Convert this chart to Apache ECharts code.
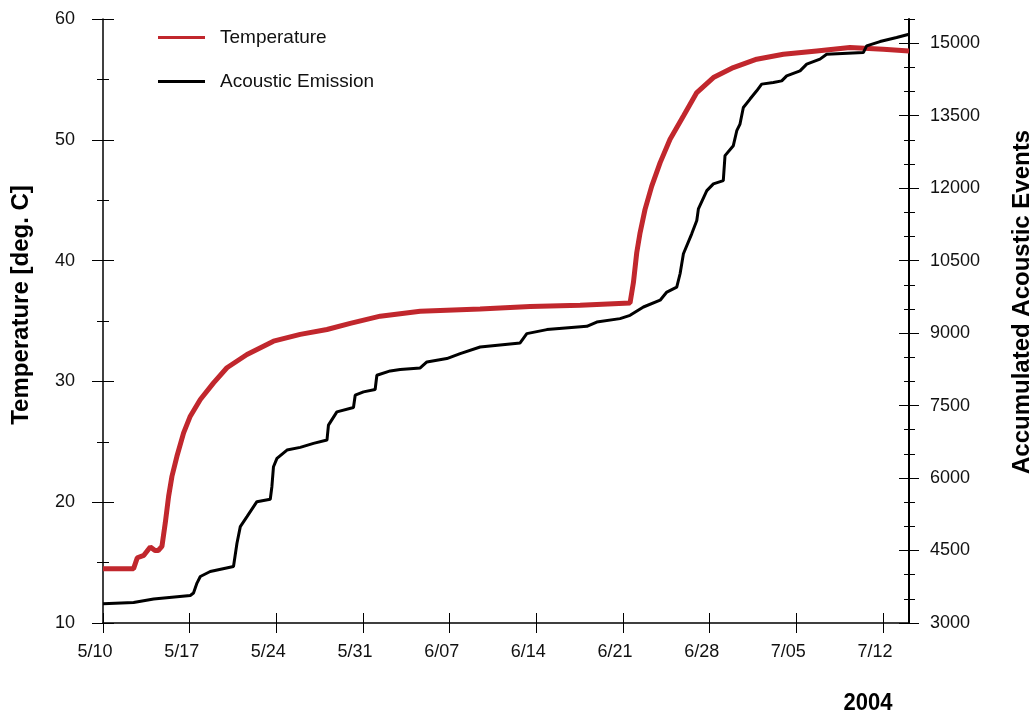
<!DOCTYPE html>
<html>
<head>
<meta charset="utf-8">
<script src="https://cdn.jsdelivr.net/npm/echarts@6/dist/echarts.min.js"></script>
<style>
html,body{margin:0;padding:0;background:#fff;}
#chart{width:1033px;height:713px;}
</style>
</head>
<body>
<div id="chart"></div>
<script>
// ---- data (x = days since 2004-05-10) ----
const dayTicks = [0, 7, 14, 21, 28, 35, 42, 49, 56, 63];
const dateLabels = ['5/10', '5/17', '5/24', '5/31', '6/07', '6/14', '6/21', '6/28', '7/05', '7/12'];
const tempTicks = [10, 20, 30, 40, 50, 60];
const aeTicks = [3000, 4500, 6000, 7500, 9000, 10500, 12000, 13500, 15000];
const aeMinorTicks = [3500, 4000, 5000, 5500, 6500, 7000, 8000, 8500, 9500, 10000, 11000, 11500, 12500, 13000, 14000, 14500, 15500];

const tempDays = [0, 2.47, 2.77, 3.3, 3.82, 4.2, 4.46, 4.76, 5.03, 5.30, 5.57, 5.97, 6.51, 7.05, 7.86, 8.93, 10.01, 11.63, 13.77, 15.93, 18.09, 19.97, 22.39, 25.62, 30.46, 34.5, 38.54, 42.57, 42.71, 42.84, 43.11, 43.38, 43.78, 44.32, 45.0, 45.8, 46.88, 47.96, 49.3, 50.91, 52.8, 54.95, 57.65, 60.33, 63.02, 65.1];
const tempValues = [14.5, 14.5, 15.4, 15.6, 16.3, 16.0, 16.0, 16.35, 18.28, 20.49, 22.15, 23.8, 25.74, 27.12, 28.5, 29.88, 31.13, 32.23, 33.33, 33.89, 34.3, 34.8, 35.4, 35.8, 36.0, 36.2, 36.3, 36.5, 36.5, 38.17, 40.66, 42.31, 44.24, 46.17, 48.11, 50.04, 51.97, 53.91, 55.15, 55.98, 56.67, 57.08, 57.36, 57.64, 57.5, 57.36];

const aeDays = [0, 2.47, 4.09, 7.05, 7.31, 7.59, 7.86, 8.66, 10.54, 10.82, 11.09, 11.63, 12.43, 13.51, 13.64, 13.77, 14.05, 14.86, 15.93, 17.0, 18.09, 18.21, 18.89, 20.23, 20.37, 21.04, 21.98, 22.12, 23.2, 24.0, 25.62, 26.16, 27.77, 28.85, 30.46, 33.69, 34.23, 35.85, 39.08, 39.88, 41.76, 42.57, 43.65, 45.0, 45.54, 46.34, 46.61, 46.88, 47.55, 47.96, 48.09, 48.77, 49.3, 50.1, 50.24, 50.91, 51.19, 51.45, 51.72, 52.26, 52.8, 53.2, 54.14, 54.82, 55.22, 56.3, 56.84, 57.91, 58.45, 61.41, 61.68, 62.76, 64.1, 65.1];
const aeValues = [3400, 3425, 3496, 3570, 3620, 3826, 3962, 4066, 4169, 4652, 4995, 5202, 5511, 5561, 5821, 6234, 6408, 6579, 6635, 6718, 6786, 7096, 7370, 7461, 7715, 7783, 7833, 8128, 8217, 8246, 8279, 8403, 8473, 8576, 8712, 8795, 8989, 9072, 9140, 9229, 9299, 9367, 9540, 9680, 9849, 9952, 10228, 10641, 11054, 11329, 11571, 11949, 12087, 12155, 12672, 12878, 13188, 13326, 13669, 13843, 14014, 14152, 14185, 14220, 14324, 14427, 14565, 14669, 14772, 14805, 14944, 15033, 15116, 15185];

const FONT = '"Liberation Sans", Arial, Helvetica, sans-serif';
const zip = (xs, ys) => xs.map((x, i) => [x, ys[i]]);

const chart = echarts.init(document.getElementById('chart'), null, { renderer: 'canvas' });

function tickOnlyAxis(base, inside, len, values, width) {
  return Object.assign({}, base, {
    axisLine: { show: false, onZero: false },
    axisLabel: { show: false },
    splitLine: { show: false },
    axisTick: { show: true, inside: inside, length: len, customValues: values, lineStyle: { color: '#000', width: width || 1 } }
  });
}

const xBase = { type: 'value', gridIndex: 0, min: 0, max: 65.1, position: 'bottom' };
const tBase = { type: 'value', min: 10, max: 60, position: 'left' };
const aBase = { type: 'value', min: 3000, max: 15500, position: 'right' };

const option = {
  backgroundColor: '#fff',
  animation: false,
  grid: { left: 103, right: 124, top: 19, bottom: 90, containLabel: false },
  legend: {
    orient: 'vertical', left: 158, top: 28, itemGap: 25, padding: 0,
    itemWidth: 47, itemHeight: 3, icon: 'rect',
    textStyle: { fontFamily: FONT, fontSize: 19, color: '#111', padding: [0, 0, 0, 10] },
    data: ['Temperature', 'Acoustic Emission']
  },
  xAxis: [
    Object.assign({}, xBase, {
      axisLine: { show: true, onZero: false, lineStyle: { color: '#000', width: 1.5 } },
      axisTick: { show: true, inside: false, length: 10, customValues: dayTicks, lineStyle: { color: '#000', width: 1 } },
      axisLabel: {
        show: true, customValues: dayTicks, margin: 20, padding: [0, 16, 0, 0],
        fontFamily: FONT, fontSize: 18, color: '#111',
        formatter: v => { const i = dayTicks.indexOf(v); return i >= 0 ? dateLabels[i] : ''; }
      },
      splitLine: { show: false }
    }),
    tickOnlyAxis(xBase, true, 10, dayTicks)
  ],
  yAxis: [
    Object.assign({}, tBase, {
      interval: 10,
      axisLine: { show: true, onZero: false, lineStyle: { color: '#000', width: 1.5 } },
      axisTick: { show: true, inside: false, length: 11, lineStyle: { color: '#000', width: 1 } },
      minorTick: { show: true, splitNumber: 2, length: 6, lineStyle: { color: '#000', width: 1 } },
      axisLabel: { show: true, margin: 28, fontFamily: FONT, fontSize: 18, color: '#111' },
      splitLine: { show: false }, minorSplitLine: { show: false }
    }),
    Object.assign({}, tBase, {
      interval: 10,
      axisLine: { show: false, onZero: false },
      axisTick: { show: true, inside: true, length: 11, lineStyle: { color: '#000', width: 1 } },
      minorTick: { show: true, splitNumber: 2, length: 6, lineStyle: { color: '#000', width: 1 } },
      axisLabel: { show: false },
      splitLine: { show: false }
    }),
    Object.assign({}, aBase, {
      axisLine: { show: true, onZero: false, lineStyle: { color: '#000', width: 2 } },
      axisTick: { show: true, inside: false, length: 10, customValues: aeTicks, lineStyle: { color: '#000', width: 1 } },
      axisLabel: { show: true, customValues: aeTicks, margin: 21, fontFamily: FONT, fontSize: 18, color: '#111',
        formatter: v => String(v) },
      splitLine: { show: false }
    }),
    tickOnlyAxis(aBase, true, 10, aeTicks),
    tickOnlyAxis(aBase, false, 6, aeMinorTicks),
    tickOnlyAxis(aBase, true, 5, aeMinorTicks)
  ],
  graphic: [
    { type: 'text', x: 21, y: 305, rotation: Math.PI / 2,
      style: { text: 'Temperature [deg. C]', font: 'bold 24px ' + FONT, fill: '#000', textAlign: 'center', textVerticalAlign: 'middle' } },
    { type: 'text', x: 1022, y: 302, rotation: Math.PI / 2,
      style: { text: 'Accumulated Acoustic Events', font: 'bold 24px ' + FONT, fill: '#000', textAlign: 'center', textVerticalAlign: 'middle' } },
    { type: 'text', x: 868, y: 703, scaleY: 1.12,
      style: { text: '2004', font: 'bold 22px ' + FONT, fill: '#000', textAlign: 'center', textVerticalAlign: 'middle' } }
  ],
  series: [
    {
      name: 'Temperature', type: 'line', xAxisIndex: 0, yAxisIndex: 0,
      data: zip(tempDays, tempValues), showSymbol: false, symbol: 'none',
      color: '#c1272d', lineStyle: { color: '#c1272d', width: 5 }
    },
    {
      name: 'Acoustic Emission', type: 'line', xAxisIndex: 0, yAxisIndex: 2,
      data: zip(aeDays, aeValues), showSymbol: false, symbol: 'none',
      color: '#000', lineStyle: { color: '#000', width: 3 }
    }
  ]
};
chart.setOption(option);
</script>
</body>
</html>
